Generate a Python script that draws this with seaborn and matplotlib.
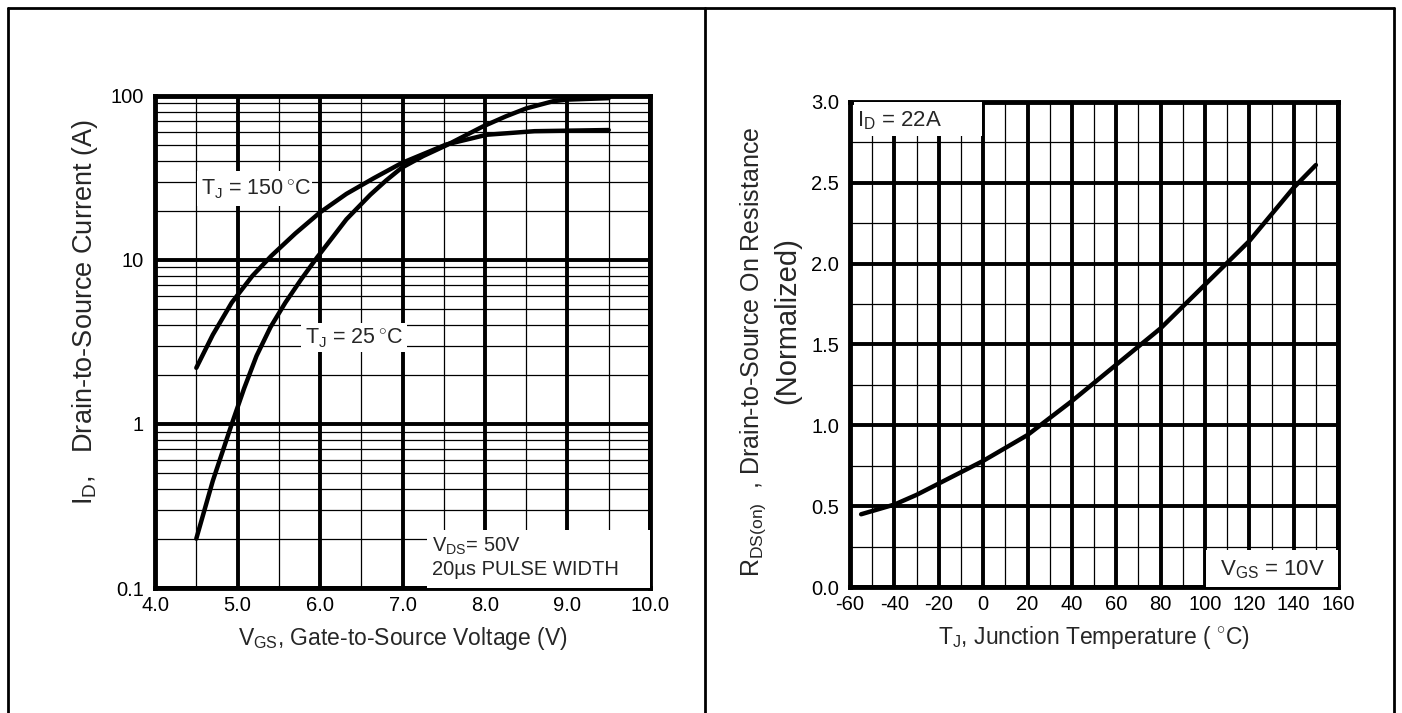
import numpy as np
import pandas as pd
import matplotlib
matplotlib.use("Agg")
import matplotlib.pyplot as plt
from matplotlib.lines import Line2D
from matplotlib.patches import Rectangle
from matplotlib.ticker import FixedLocator, NullFormatter
import seaborn as sns

sns.set_style("white")
plt.rcParams['font.family'] = ['Liberation Sans', 'DejaVu Sans']
plt.rcParams['mathtext.fontset'] = 'custom'
plt.rcParams['mathtext.rm'] = 'Liberation Sans'
plt.rcParams['mathtext.it'] = 'Liberation Sans'

# transfer characteristic, I_D vs V_GS
vgs_25 = [4.5, 4.7, 4.93, 5.08, 5.23, 5.4, 5.58, 5.77, 5.96, 6.15, 6.32, 6.61, 6.8,
          6.99, 7.25, 7.53, 7.97, 8.25, 8.5, 8.83, 9.0, 9.5]
id_25 = [0.2, 0.45, 1.0, 1.65, 2.6, 3.9, 5.5, 7.6, 10.3, 13.7, 17.7, 25, 30.5,
         36.5, 43, 50, 65, 75, 84, 93, 95, 97]
vgs_150 = [4.5, 4.7, 4.93, 5.18, 5.41, 5.7, 6.0, 6.32, 6.65, 6.99, 7.53, 8.02, 8.6, 9.5]
id_150 = [2.2, 3.5, 5.5, 8.0, 10.6, 14.5, 19.5, 25.3, 31.5, 39, 50.6, 58, 61, 62]

# normalized on-resistance vs junction temperature
tj = [-55, -40, -30, -20, 0, 20, 40, 60, 80, 100, 120, 140, 150]
rds = [0.45, 0.51, 0.57, 0.64, 0.78, 0.94, 1.15, 1.375, 1.6, 1.87, 2.14, 2.47, 2.61]

vgs_ticks = [4.0, 5.0, 6.0, 7.0, 8.0, 9.0, 10.0]
id_ticks = [0.1, 1, 10, 100]
id_ticklabels = ["0.1", "1", "10", "100"]
tj_ticks = list(range(-60, 161, 20))
rds_ticks = [0.0, 0.5, 1.0, 1.5, 2.0, 2.5, 3.0]

dpi = 100
fig = plt.figure(figsize=(1402 / dpi, 713 / dpi), dpi=dpi)
ax1 = fig.add_axes([0.1106, 0.1753, 0.3530, 0.6901])
ax2 = fig.add_axes([0.6063, 0.1767, 0.3481, 0.6803])

curves = pd.concat([
  pd.DataFrame({"vgs": vgs_25, "id": id_25, "tj": "25"}),
  pd.DataFrame({"vgs": vgs_150, "id": id_150, "tj": "150"}),
])
sns.lineplot(data=curves, x="vgs", y="id", units="tj", estimator=None, color="black",
             lw=3.2, ax=ax1, zorder=4, sort=False)
ax1.set_yscale("log")
ax1.set_xlim(4.0, 10.0)
ax1.set_ylim(0.1, 100)
ax1.set_xticks(vgs_ticks)
ax1.set_xticklabels(["%.1f" % v for v in vgs_ticks])
ax1.xaxis.set_minor_locator(FixedLocator(np.arange(4.5, 10, 1.0)))
ax1.set_yticks(id_ticks)
ax1.set_yticklabels(id_ticklabels)
minor_y = [m * d for d in [0.1, 1, 10] for m in range(2, 10)]
ax1.yaxis.set_minor_locator(FixedLocator(minor_y))
ax1.yaxis.set_minor_formatter(NullFormatter())

rd = pd.DataFrame({"tj": tj, "rds": rds})
sns.lineplot(data=rd, x="tj", y="rds", color="black", lw=3.2, ax=ax2, zorder=4)
ax2.set_xlim(-60, 160)
ax2.set_ylim(0, 3.0)
ax2.set_xticks(tj_ticks)
ax2.set_xticklabels([str(t) for t in tj_ticks])
ax2.xaxis.set_minor_locator(FixedLocator(np.arange(-50, 160, 20)))
ax2.set_yticks(rds_ticks)
ax2.set_yticklabels(["%.1f" % r for r in rds_ticks])
ax2.yaxis.set_minor_locator(FixedLocator(np.arange(0.25, 3.0, 0.5)))

for ax in (ax1, ax2):
  ax.grid(which="major", color="black", lw=2.8)
  ax.grid(which="minor", color="black", lw=0.9)
  ax.set_axisbelow(True)
  ax.tick_params(which="both", length=0, labelsize=14.5, colors="black")
  ax.tick_params(axis="x", pad=6)
  ax.tick_params(axis="y", pad=8)
  for s in ax.spines.values():
    s.set_linewidth(3.5)
    s.set_color("black")

ax1.set_xlabel("V$_{\\rm GS}$, Gate-to-Source Voltage (V)", fontsize=16.5, labelpad=7)
ax1.set_ylabel("I$_{\\rm D}$,   Drain-to-Source Current (A)", fontsize=19.5)
ax1.yaxis.set_label_coords(-0.112, 0.56)
ax2.set_xlabel("T$_{\\rm J}$, Junction Temperature ( $^{\\circ}$C)", fontsize=16.5, labelpad=7)
ax2.set_ylabel("R$_{\\rm DS(on)}$  , Drain-to-Source On Resistance", fontsize=18)
ax2.yaxis.set_label_coords(-0.168, 0.485)
ax2.text(-0.128, 0.55, "(Normalized)", transform=ax2.transAxes, rotation=90,
         fontsize=21, ha="center", va="center")

# white label boxes (axes fraction)
def box(ax, x0, y0, x1, y1):
  ax.add_patch(Rectangle((x0, y0), x1 - x0, y1 - y0, transform=ax.transAxes,
                         facecolor="white", edgecolor="none", zorder=3))

box(ax1, 0.085, 0.776, 0.317, 0.848)
ax1.text(0.092, 0.812, "T$_{\\rm J}$ = 150$\\,^{\\circ}$C", transform=ax1.transAxes,
         fontsize=15.5, va="center", ha="left", zorder=5)
box(ax1, 0.295, 0.48, 0.509, 0.539)
ax1.text(0.302, 0.51, "T$_{\\rm J}$ = 25$\\,^{\\circ}$C", transform=ax1.transAxes,
         fontsize=15.5, va="center", ha="left", zorder=5)
box(ax1, 0.549, 0.0, 1.0, 0.118)
ax1.text(0.56, 0.062, "V$_{\\rm DS}$= 50V\n20\u00b5s PULSE WIDTH", transform=ax1.transAxes,
         fontsize=14.5, va="center", ha="left", zorder=5)

box(ax2, 0.008, 0.93, 0.27, 1.0)
ax2.text(0.015, 0.962, "I$_{\\rm D}$ = 22A", transform=ax2.transAxes,
         fontsize=16, va="center", ha="left", zorder=5)
box(ax2, 0.73, 0.0, 1.0, 0.076)
ax2.text(0.865, 0.036, "V$_{\\rm GS}$ = 10V", transform=ax2.transAxes,
         fontsize=16, va="center", ha="center", zorder=5)

# outer frame of the datasheet page
fx0, fx1, fxm, fy = 8 / 1402, 1394 / 1402, 704.5 / 1402, 1 - 8 / 713
for xs, ys in [((fx0, fx1), (fy, fy)), ((fx0, fx0), (0, fy)),
               ((fx1, fx1), (0, fy)), ((fxm, fxm), (0, fy))]:
  fig.add_artist(Line2D(xs, ys, color="black", lw=2))

fig.savefig("out.png", dpi=dpi)
